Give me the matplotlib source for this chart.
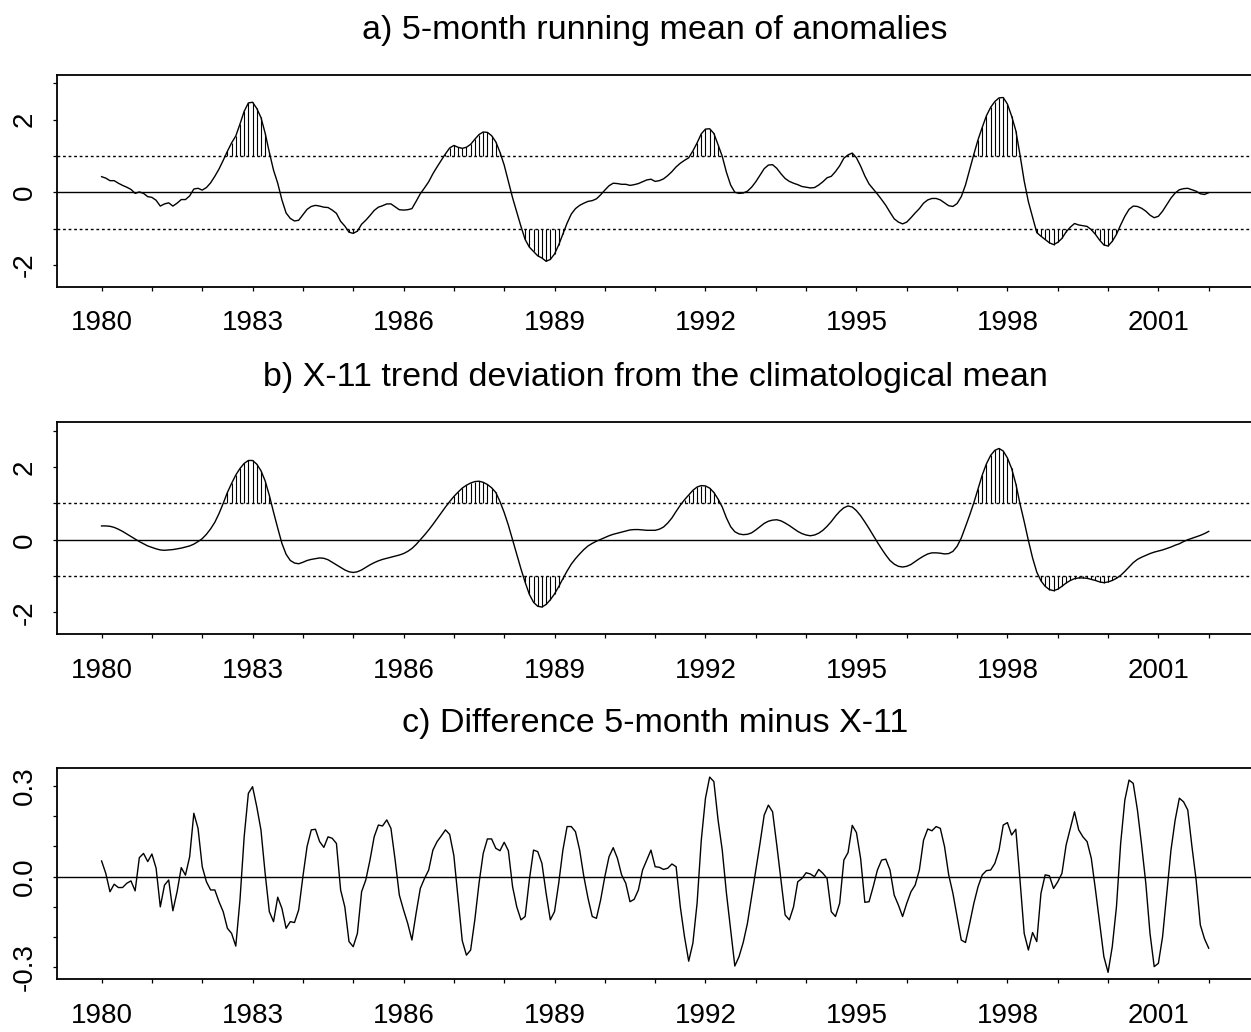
import numpy as np
import matplotlib
matplotlib.use("Agg")
import matplotlib.pyplot as plt

# Monthly series, January 1980 onwards
running_mean = [
    0.43, 0.39, 0.32, 0.32, 0.25, 0.19, 0.14, 0.08, -0.03, 0.01,
    -0.03, -0.12, -0.14, -0.22, -0.38, -0.32, -0.29, -0.38, -0.30, -0.20,
    -0.20, -0.10, 0.09, 0.11, 0.06, 0.13, 0.26, 0.44, 0.64, 0.88,
    1.13, 1.36, 1.55, 1.88, 2.23, 2.46, 2.48, 2.31, 2.06, 1.63,
    1.10, 0.61, 0.25, -0.21, -0.57, -0.72, -0.79, -0.77, -0.62, -0.47,
    -0.39, -0.36, -0.38, -0.41, -0.42, -0.49, -0.58, -0.80, -0.93, -1.10,
    -1.13, -1.07, -0.88, -0.77, -0.64, -0.50, -0.41, -0.37, -0.32, -0.32,
    -0.40, -0.48, -0.49, -0.48, -0.45, -0.25, -0.04, 0.12, 0.29, 0.51,
    0.70, 0.88, 1.06, 1.22, 1.29, 1.24, 1.21, 1.24, 1.32, 1.46,
    1.59, 1.66, 1.65, 1.56, 1.39, 1.10, 0.75, 0.30, -0.15, -0.55,
    -0.94, -1.30, -1.51, -1.63, -1.75, -1.81, -1.90, -1.85, -1.70, -1.45,
    -1.15, -0.85, -0.60, -0.45, -0.36, -0.30, -0.25, -0.23, -0.18, -0.07,
    0.06, 0.18, 0.25, 0.24, 0.22, 0.22, 0.19, 0.21, 0.24, 0.29,
    0.34, 0.36, 0.30, 0.32, 0.37, 0.46, 0.57, 0.70, 0.80, 0.88,
    0.95, 1.14, 1.36, 1.61, 1.74, 1.75, 1.62, 1.31, 0.99, 0.55,
    0.20, 0.00, -0.03, -0.02, 0.03, 0.14, 0.29, 0.47, 0.65, 0.75,
    0.76, 0.66, 0.51, 0.38, 0.30, 0.25, 0.21, 0.16, 0.14, 0.12,
    0.13, 0.20, 0.29, 0.40, 0.44, 0.57, 0.73, 0.94, 1.03, 1.08,
    0.95, 0.72, 0.45, 0.23, 0.09, -0.05, -0.20, -0.36, -0.55, -0.73,
    -0.82, -0.87, -0.82, -0.70, -0.57, -0.45, -0.30, -0.21, -0.17, -0.17,
    -0.21, -0.29, -0.37, -0.39, -0.31, -0.12, 0.20, 0.63, 1.05, 1.45,
    1.79, 2.11, 2.34, 2.50, 2.60, 2.61, 2.43, 2.10, 1.70, 1.03,
    0.31, -0.26, -0.69, -1.11, -1.21, -1.30, -1.39, -1.44, -1.38, -1.27,
    -1.09, -0.96, -0.86, -0.90, -0.92, -0.94, -1.03, -1.16, -1.32, -1.45,
    -1.48, -1.35, -1.16, -0.90, -0.66, -0.47, -0.38, -0.39, -0.44, -0.52,
    -0.63, -0.70, -0.66, -0.52, -0.34, -0.16, -0.02, 0.07, 0.10, 0.11,
    0.07, 0.03, -0.04, -0.06, -0.01,
]

x11_trend = [
    0.38, 0.38, 0.37, 0.34, 0.29, 0.23, 0.16, 0.09, 0.02, -0.05,
    -0.11, -0.17, -0.21, -0.25, -0.28, -0.29, -0.28, -0.27, -0.25, -0.23,
    -0.20, -0.17, -0.12, -0.05, 0.03, 0.15, 0.30, 0.48, 0.72, 1.00,
    1.30, 1.55, 1.78, 1.96, 2.10, 2.18, 2.18, 2.08, 1.90, 1.62,
    1.22, 0.76, 0.32, -0.10, -0.40, -0.57, -0.64, -0.66, -0.62, -0.57,
    -0.54, -0.52, -0.50, -0.51, -0.55, -0.62, -0.69, -0.76, -0.83, -0.88,
    -0.90, -0.88, -0.83, -0.76, -0.69, -0.63, -0.58, -0.54, -0.51, -0.48,
    -0.45, -0.42, -0.38, -0.32, -0.24, -0.13, 0.00, 0.13, 0.27, 0.42,
    0.58, 0.74, 0.90, 1.05, 1.19, 1.31, 1.42, 1.50, 1.56, 1.60,
    1.61, 1.58, 1.52, 1.43, 1.30, 1.05, 0.75, 0.40, 0.00, -0.40,
    -0.80, -1.17, -1.50, -1.72, -1.83, -1.85, -1.78, -1.65, -1.49, -1.29,
    -1.07, -0.86, -0.67, -0.52, -0.39, -0.27, -0.17, -0.10, -0.04, 0.01,
    0.06, 0.11, 0.15, 0.18, 0.21, 0.24, 0.27, 0.28, 0.28, 0.27,
    0.26, 0.26, 0.26, 0.29, 0.35, 0.46, 0.60, 0.78, 0.95, 1.10,
    1.23, 1.36, 1.45, 1.49, 1.48, 1.42, 1.30, 1.12, 0.90, 0.60,
    0.36, 0.22, 0.16, 0.14, 0.15, 0.19, 0.27, 0.36, 0.45, 0.51,
    0.54, 0.55, 0.52, 0.46, 0.39, 0.31, 0.23, 0.17, 0.13, 0.11,
    0.13, 0.18, 0.26, 0.37, 0.50, 0.65, 0.78, 0.88, 0.93, 0.90,
    0.80, 0.66, 0.49, 0.31, 0.12, -0.07, -0.25, -0.42, -0.57, -0.67,
    -0.73, -0.75, -0.73, -0.68, -0.60, -0.52, -0.45, -0.39, -0.36, -0.36,
    -0.37, -0.39, -0.38, -0.32, -0.18, 0.05, 0.36, 0.68, 1.02, 1.40,
    1.78, 2.09, 2.32, 2.46, 2.51, 2.44, 2.25, 1.96, 1.54, 0.99,
    0.50, -0.02, -0.50, -0.89, -1.13, -1.28, -1.37, -1.40, -1.36, -1.28,
    -1.19, -1.12, -1.07, -1.05, -1.05, -1.06, -1.09, -1.12, -1.16, -1.18,
    -1.16, -1.12, -1.06, -0.98, -0.87, -0.75, -0.63, -0.54, -0.48, -0.43,
    -0.38, -0.34, -0.31, -0.28, -0.24, -0.20, -0.15, -0.11, -0.05, 0.00,
    0.04, 0.08, 0.12, 0.17, 0.23,
]

difference = [
    0.052, 0.011, -0.050, -0.025, -0.036, -0.036, -0.022, -0.014, -0.047, 0.063,
    0.077, 0.050, 0.075, 0.028, -0.100, -0.028, -0.011, -0.113, -0.050, 0.030,
    0.005, 0.066, 0.210, 0.160, 0.033, -0.017, -0.044, -0.044, -0.083, -0.116,
    -0.171, -0.188, -0.230, -0.077, 0.132, 0.276, 0.298, 0.232, 0.155, 0.011,
    -0.116, -0.149, -0.068, -0.105, -0.171, -0.149, -0.152, -0.110, 0.000, 0.100,
    0.155, 0.157, 0.116, 0.097, 0.132, 0.127, 0.110, -0.044, -0.100, -0.215,
    -0.232, -0.188, -0.050, -0.011, 0.055, 0.132, 0.171, 0.168, 0.188, 0.160,
    0.055, -0.061, -0.110, -0.155, -0.210, -0.121, -0.039, -0.006, 0.022, 0.088,
    0.116, 0.135, 0.155, 0.140, 0.070, -0.070, -0.212, -0.260, -0.243, -0.143,
    -0.022, 0.077, 0.125, 0.125, 0.094, 0.086, 0.114, 0.086, -0.033, -0.100,
    -0.143, -0.132, -0.011, 0.088, 0.083, 0.044, -0.055, -0.143, -0.116, -0.022,
    0.088, 0.166, 0.166, 0.149, 0.088, 0.000, -0.072, -0.132, -0.138, -0.077,
    0.000, 0.066, 0.096, 0.061, 0.006, -0.022, -0.083, -0.075, -0.044, 0.022,
    0.055, 0.088, 0.033, 0.031, 0.024, 0.028, 0.042, 0.033, -0.100, -0.199,
    -0.280, -0.220, -0.088, 0.121, 0.260, 0.330, 0.315, 0.188, 0.088, -0.055,
    -0.177, -0.296, -0.265, -0.218, -0.155, -0.066, 0.022, 0.110, 0.204, 0.237,
    0.215, 0.105, -0.011, -0.127, -0.143, -0.100, -0.017, -0.006, 0.013, 0.009,
    0.000, 0.024, 0.011, -0.006, -0.116, -0.132, -0.088, 0.055, 0.080, 0.170,
    0.146, 0.060, -0.085, -0.083, -0.033, 0.022, 0.055, 0.058, 0.022, -0.061,
    -0.094, -0.132, -0.088, -0.050, -0.028, 0.022, 0.121, 0.158, 0.152, 0.166,
    0.160, 0.100, 0.006, -0.055, -0.132, -0.210, -0.218, -0.155, -0.088, -0.033,
    0.006, 0.020, 0.022, 0.044, 0.088, 0.171, 0.179, 0.138, 0.157, -0.011,
    -0.188, -0.243, -0.185, -0.215, -0.055, 0.006, 0.003, -0.039, -0.017, 0.011,
    0.105, 0.160, 0.215, 0.155, 0.132, 0.116, 0.061, -0.044, -0.155, -0.265,
    -0.317, -0.232, -0.100, 0.110, 0.254, 0.320, 0.309, 0.221, 0.105, -0.022,
    -0.188, -0.298, -0.287, -0.199, -0.055, 0.088, 0.188, 0.260, 0.248, 0.221,
    0.100, -0.011, -0.160, -0.206, -0.237,
]

panel_titles = [
    "a) 5-month running mean of anomalies",
    "b) X-11 trend deviation from the climatological mean",
    "c) Difference 5-month minus X-11",
]
start_year = 1980
year_ticks = list(range(1980, 2003))
year_labels = [str(y) if (y - 1980) % 3 == 0 and y <= 2001 else "" for y in year_ticks]

plt.rcParams["font.family"] = ["Liberation Sans", "DejaVu Sans"]
plt.rcParams["lines.scale_dashes"] = False

W, H = 1251, 1032
fig = plt.figure(figsize=(W / 100, H / 100), dpi=100)

left_px, right_px = 57.3, 1253.0
boxes = [(75.0, 286.7), (422.3, 634.3), (768.3, 979.3)]
series_list = [running_mean, x11_trend, difference]

months = start_year + np.arange(len(running_mean)) / 12.0

for k, (series, (top, bot)) in enumerate(zip(series_list, boxes)):
    ax = fig.add_axes([left_px / W, 1 - bot / H, (right_px - left_px) / W, (bot - top) / H])
    y = np.asarray(series)
    ax.plot(months, y, color="black", lw=1.0, solid_joinstyle="round")
    ax.axhline(0, color="black", lw=1.0)
    if k < 2:
        for lev in (1, -1):
            ax.axhline(lev, color="black", lw=1.0, linestyle=(0, (2.0, 2.0)))
        up = y > 1
        dn = y < -1
        ax.vlines(months[up], 1, y[up], color="black", lw=0.8)
        ax.vlines(months[dn], -1, y[dn], color="black", lw=0.8)
        ax.set_ylim(-2.6, 3.23)
        ax.set_yticks([-2, -1, 0, 1, 2, 3])
        ax.set_yticklabels(["-2", "", "0", "", "2", ""])
    else:
        ax.set_ylim(-0.34, 0.359)
        ax.set_yticks([-0.3, -0.2, -0.1, 0.0, 0.1, 0.2, 0.3])
        ax.set_yticklabels(["-0.3", "", "", "0.0", "", "", "0.3"])
    ax.set_xlim(1979.12, 2002.88)
    ax.set_xticks(year_ticks)
    ax.set_xticklabels(year_labels)
    ax.tick_params(axis="both", direction="out", length=3, width=0.9,
                   colors="black", labelsize=20)
    ax.tick_params(axis="x", pad=14)
    ax.tick_params(axis="y", pad=11, labelrotation=90)
    for lab in ax.get_yticklabels():
        lab.set_verticalalignment("center")
    for side in ("left", "top", "bottom", "right"):
        ax.spines[side].set_linewidth(1.3)
    ax.set_title(panel_titles[k], fontsize=24.5, pad=26)

fig.savefig("out.png", dpi=100)
